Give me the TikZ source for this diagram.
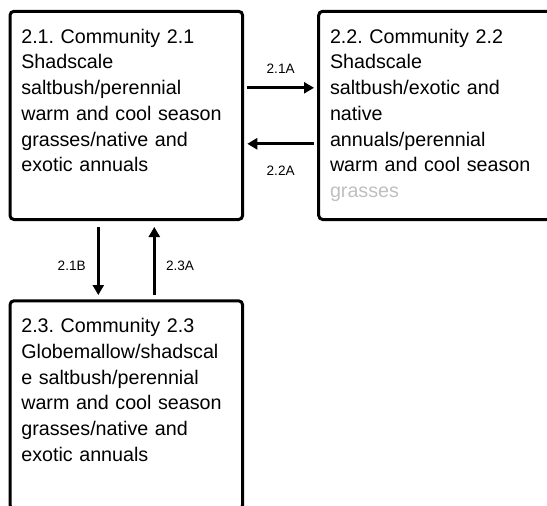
\documentclass[tikz,border=0pt]{standalone}
\usepackage{fontspec}
\setmainfont{Liberation Sans}
\usepackage{tikz}
\usetikzlibrary{arrows.meta}
\newcommand{\boxfont}{\fontsize{19.7pt}{25.8pt}\selectfont\frenchspacing\hyphenpenalty=10000\relax}
\tikzstyle{community} = [rectangle, rounded corners=4pt, draw=black, line width=3pt, anchor=north west, text width=210pt, align=left, inner xsep=11.3pt, inner ysep=16.8pt, text height=14.9pt, text depth=159.7pt, font=\boxfont]
\tikzstyle{arrow} = [line width=2.7pt, -{Triangle[length=10pt,width=11pt]}]
\tikzstyle{pathlabel} = [midway, inner sep=0pt, font=\fontsize{13.6pt}{15pt}\selectfont]
\begin{document}
\begin{tikzpicture}[x=1pt, y=1pt]
	\path[use as bounding box, clip] (0,0) rectangle (547,-506);
	
	% Nodes
	\node (c21) [community] at (8.5,-9.8) {2.1. Community 2.1\\Shadscale\\saltbush/perennial\\warm and cool season\\grasses/native and\\exotic annuals};
	\node (c22) [community] at (317.2,-9.8) {2.2. Community 2.2\\Shadscale\\saltbush/exotic and\\native\\annuals/perennial\\warm and cool season\\{\color{black!25}grasses}};
	\node (c23) [community] at (8.5,-299.3) {2.3. Community 2.3\\Globemallow/shadscal\\e saltbush/perennial\\warm and cool season\\grasses/native and\\exotic annuals};
	
	% Arrows
	\draw [arrow, shorten <=3.2pt, shorten >=3.2pt] ([yshift=-78pt]c21.north east) -- node[pathlabel, yshift=19.4pt] {2.1A} ([yshift=-78pt]c22.north west);
	\draw [arrow, shorten <=3.2pt, shorten >=3.2pt] ([yshift=-134pt]c22.north west) -- node[pathlabel, yshift=-26.5pt] {2.2A} ([yshift=-134pt]c21.north east);
	\draw [arrow, shorten <=6pt, shorten >=4.3pt] ([xshift=89.8pt]c21.south west) -- node[pathlabel, xshift=-26.6pt, yshift=-5.5pt] {2.1B} ([xshift=89.8pt]c23.north west);
	\draw [arrow, shorten <=4.3pt, shorten >=6pt] ([xshift=145.8pt]c23.north west) -- node[pathlabel, xshift=25.7pt, yshift=-5.5pt] {2.3A} ([xshift=145.8pt]c21.south west);
	
\end{tikzpicture}
\end{document}
